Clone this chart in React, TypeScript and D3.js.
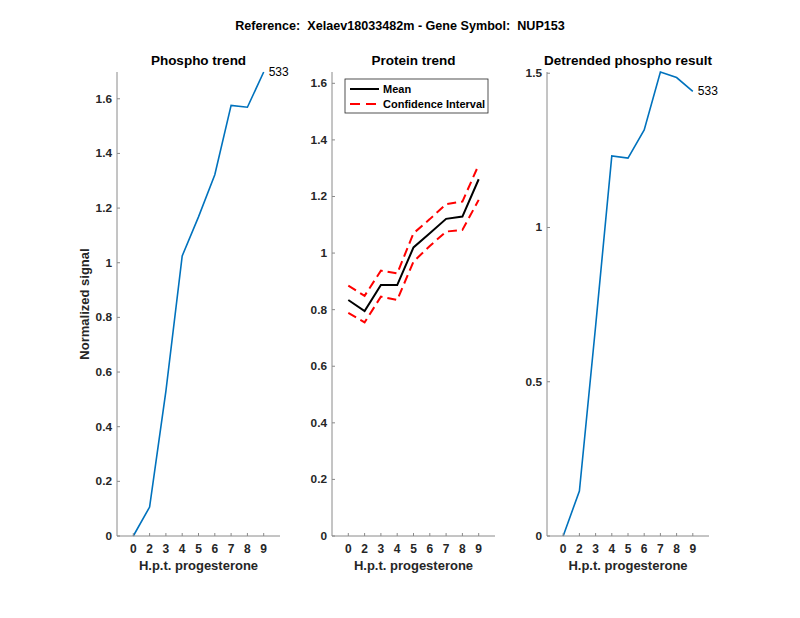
import React from "react";
import * as d3 from "d3";

const timeLabels = ["0", "2", "3", "4", "5", "6", "7", "8", "9"];
const phosphoTrend = [0, 0.106, 0.53, 1.025, 1.168, 1.322, 1.576, 1.569, 1.698];
const proteinMean = [0.834, 0.795, 0.887, 0.887, 1.02, 1.07, 1.121, 1.129, 1.261];
const proteinUpper = [0.885, 0.849, 0.938, 0.928, 1.07, 1.12, 1.173, 1.182, 1.312];
const proteinLower = [0.789, 0.755, 0.846, 0.834, 0.97, 1.025, 1.076, 1.082, 1.188];
const detrended = [0, 0.146, 0.68, 1.232, 1.225, 1.316, 1.504, 1.486, 1.441];
const pointLabel = "533";

const phosphoTicks = [0, 0.2, 0.4, 0.6, 0.8, 1, 1.2, 1.4, 1.6];
const proteinTicks = [0, 0.2, 0.4, 0.6, 0.8, 1, 1.2, 1.4, 1.6];
const detrendedTicks = [0, 0.5, 1, 1.5];

const FONT = "'Liberation Sans', Arial, Helvetica, sans-serif";
const AXIS = "#8a8a8a";
const TEXT = "#262626";
const BLUE = "#0072BD";

type PanelProps = {
  x0: number;
  x1: number;
  yTop: number;
  yBot: number;
  yMax: number;
  yTicks: number[];
  title: string;
  children: (xs: d3.ScaleLinear<number, number>, ys: d3.ScaleLinear<number, number>) => React.ReactNode;
};

function Panel({ x0, x1, yTop, yBot, yMax, yTicks, title, children }: PanelProps) {
  const xs = d3.scaleLinear().domain([0, 10]).range([x0, x1]);
  const ys = d3.scaleLinear().domain([0, yMax]).range([yBot, yTop]);
  const fmt = (v: number) => (Math.abs(v - Math.round(v)) < 1e-9 ? String(Math.round(v)) : String(+v.toFixed(2)));
  return (
    <g>
      <text x={(x0 + x1) / 2} y={65} textAnchor="middle" fontFamily={FONT} fontWeight="bold" fontSize={13.5} fill="#000">
        {title}
      </text>
      {children(xs, ys)}
      <line x1={x0} x2={x0} y1={yBot} y2={yTop} stroke={AXIS} strokeWidth={1} />
      <line x1={x0} x2={x1} y1={yBot} y2={yBot} stroke={AXIS} strokeWidth={1} />
      {yTicks.map((t) => (
        <g key={"y" + t}>
          <line x1={x0} x2={x0 + 3} y1={ys(t)} y2={ys(t)} stroke={AXIS} />
          <text x={x0 - 5} y={ys(t) + 4} textAnchor="end" fontFamily={FONT} fontWeight="bold" fontSize={11.8} fill={TEXT}>
            {fmt(t)}
          </text>
        </g>
      ))}
      {timeLabels.map((lab, i) => (
        <g key={"x" + i}>
          <line x1={xs(i + 1)} x2={xs(i + 1)} y1={yBot} y2={yBot - 3} stroke={AXIS} />
          <text x={xs(i + 1)} y={yBot + 17} textAnchor="middle" fontFamily={FONT} fontWeight="bold" fontSize={12} fill={TEXT}>
            {lab}
          </text>
        </g>
      ))}
      <text x={(x0 + x1) / 2} y={yBot + 34} textAnchor="middle" fontFamily={FONT} fontWeight="bold" fontSize={13} fill={TEXT}>
        H.p.t. progesterone
      </text>
    </g>
  );
}

export default function App() {
  const yTop = 72;
  const yBot = 536;
  const idx = (i: number) => i + 1;
  return (
    <svg width={800} height={618} style={{ display: "block", position: "absolute", left: 0, top: 0, background: "#fff" }}>
      <rect width={800} height={618} fill="#fff" />
      <text x={400} y={30} textAnchor="middle" fontFamily={FONT} fontWeight="bold" fontSize={12.6} fill="#000" style={{ whiteSpace: "pre" }}>
        {"Reference:  Xelaev18033482m - Gene Symbol:  NUP153"}
      </text>
      <Panel x0={117} x1={280} yTop={yTop} yBot={yBot} yMax={1.698} yTicks={phosphoTicks} title="Phospho trend">
        {(xs, ys) => {
          const line = d3.line<number>().x((_, i) => xs(idx(i))).y((d) => ys(d));
          const last = phosphoTrend.length - 1;
          return (
            <g>
              <path d={line(phosphoTrend) || ""} fill="none" stroke={BLUE} strokeWidth={1.6} />
              <text x={xs(idx(last)) + 5} y={ys(phosphoTrend[last]) + 4} fontFamily={FONT} fontSize={12} fill="#000">
                {pointLabel}
              </text>
            </g>
          );
        }}
      </Panel>
      <Panel x0={332} x1={495} yTop={yTop} yBot={yBot} yMax={1.64} yTicks={proteinTicks} title="Protein trend">
        {(xs, ys) => {
          const line = d3.line<number>().x((_, i) => xs(idx(i))).y((d) => ys(d));
          return (
            <g>
              <path d={line(proteinUpper) || ""} fill="none" stroke="#ff0000" strokeWidth={2} strokeDasharray="9,5" />
              <path d={line(proteinLower) || ""} fill="none" stroke="#ff0000" strokeWidth={2} strokeDasharray="9,5" />
              <path d={line(proteinMean) || ""} fill="none" stroke="#000" strokeWidth={2} />
              <rect x={345} y={79} width={143} height={34} fill="#fff" stroke="#262626" strokeWidth={0.8} />
              <line x1={350} x2={379} y1={89} y2={89} stroke="#000" strokeWidth={2} />
              <text x={383} y={93} fontFamily={FONT} fontWeight="bold" fontSize={11} fill="#000">Mean</text>
              <line x1={350} x2={379} y1={104} y2={104} stroke="#ff0000" strokeWidth={2} strokeDasharray="10,6" />
              <text x={383} y={108} fontFamily={FONT} fontWeight="bold" fontSize={11} fill="#000">Confidence Interval</text>
            </g>
          );
        }}
      </Panel>
      <Panel x0={547} x1={709} yTop={yTop} yBot={yBot} yMax={1.504} yTicks={detrendedTicks} title="Detrended phospho result">
        {(xs, ys) => {
          const line = d3.line<number>().x((_, i) => xs(idx(i))).y((d) => ys(d));
          const last = detrended.length - 1;
          return (
            <g>
              <path d={line(detrended) || ""} fill="none" stroke={BLUE} strokeWidth={1.6} />
              <text x={xs(idx(last)) + 5} y={ys(detrended[last]) + 4} fontFamily={FONT} fontSize={12} fill="#000">
                {pointLabel}
              </text>
            </g>
          );
        }}
      </Panel>
      <text
        transform={`translate(89,${(yTop + yBot) / 2}) rotate(-90)`}
        textAnchor="middle"
        fontFamily={FONT}
        fontWeight="bold"
        fontSize={13}
        fill={TEXT}
      >
        Normalized signal
      </text>
    </svg>
  );
}
